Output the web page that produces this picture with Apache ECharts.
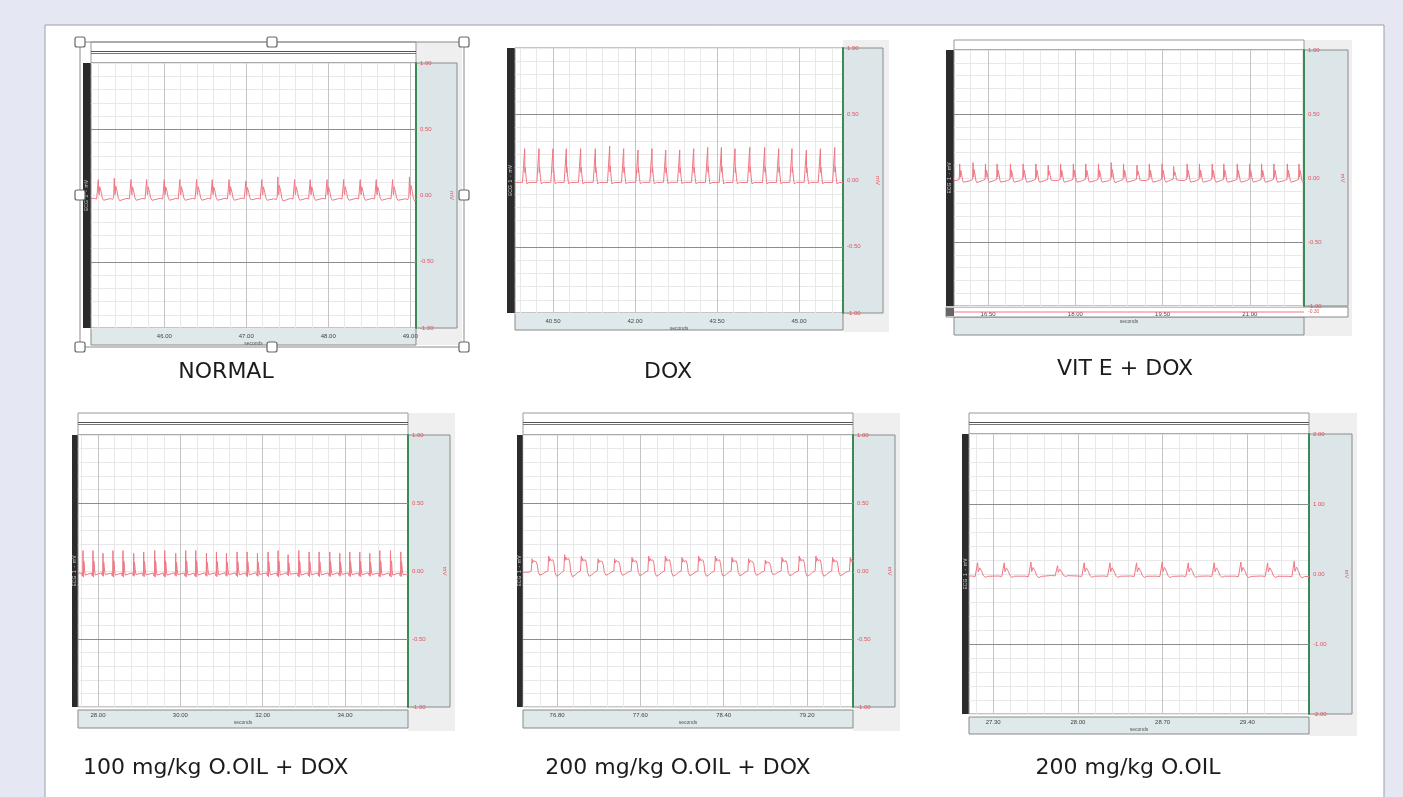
<!DOCTYPE html>
<html><head><meta charset="utf-8">
<script src="https://cdn.jsdelivr.net/npm/echarts@6/dist/echarts.min.js"></script>
<style>html,body{margin:0;padding:0;background:#e5e8f3;}#c{width:1403px;height:797px;}</style>
</head><body><div id="c"></div><script>
// ---------------- DATA ----------------
const panelTitles = ['NORMAL', 'DOX', 'VIT E + DOX', '100 mg/kg O.OIL + DOX', '200 mg/kg O.OIL + DOX', '200 mg/kg O.OIL'];

// x tick labels (seconds)
const normalXTicks = [46.00, 47.00, 48.00, 49.00];
const doxXTicks = [40.50, 42.00, 43.50, 45.00];
const vitXTicks = [16.50, 18.00, 19.50, 21.00];
const oil100XTicks = [28.00, 30.00, 32.00, 34.00];
const oil200DoxXTicks = [76.80, 77.60, 78.40, 79.20];
const oil200XTicks = [27.30, 28.00, 28.70, 29.40];

// y tick labels (mV)
const yTicksOne = [-1.00, -0.50, 0.00, 0.50, 1.00];
const yTicksTwo = [-2.00, -1.00, 0.00, 1.00, 2.00];

// visible time window of each recording
const normalRange = [45.106, 49.07];
const doxRange = [39.805, 45.805];
const vitRange = [15.914, 21.931];
const oil100Range = [27.514, 35.53];
const oil200DoxRange = [76.473, 79.642];
const oil200Range = [27.10, 29.91];

// R-peak times (s) and amplitudes (mV) of each beat
const normalBeatTimes = [45.195, 45.390, 45.594, 45.785, 46.000, 46.190, 46.395, 46.585, 46.790, 46.995, 47.190, 47.385, 47.590, 47.780, 47.985, 48.188, 48.390, 48.585, 48.785, 48.990];
const normalBeatAmps = [0.12, 0.13, 0.12, 0.12, 0.12, 0.12, 0.12, 0.12, 0.12, 0.11, 0.12, 0.14, 0.12, 0.12, 0.12, 0.12, 0.12, 0.12, 0.12, 0.14];

const doxBeatTimes = [39.982, 40.244, 40.500, 40.744, 41.006, 41.275, 41.537, 41.793, 42.055, 42.311, 42.562, 42.818, 43.074, 43.330, 43.581, 43.830, 44.099, 44.373, 44.629, 44.872, 45.135, 45.392, 45.654];
const doxBeatAmps = [0.24, 0.24, 0.24, 0.24, 0.24, 0.24, 0.26, 0.24, 0.23, 0.24, 0.23, 0.23, 0.24, 0.25, 0.25, 0.24, 0.25, 0.25, 0.24, 0.24, 0.23, 0.24, 0.25];

const vitBeatTimes = [16.012, 16.241, 16.455, 16.655, 16.885, 17.103, 17.322, 17.534, 17.747, 17.966, 18.179, 18.398, 18.617, 18.829, 19.060, 19.272, 19.491, 19.691, 19.922, 20.134, 20.353, 20.553, 20.784, 20.995, 21.202, 21.414, 21.645, 21.845];
const vitBeatAmps = [0.11, 0.12, 0.11, 0.11, 0.11, 0.11, 0.11, 0.10, 0.11, 0.11, 0.11, 0.11, 0.12, 0.11, 0.10, 0.11, 0.11, 0.09, 0.11, 0.11, 0.11, 0.11, 0.11, 0.11, 0.11, 0.11, 0.11, 0.11];
const vitCh2Times = [15.914, 21.931];
const vitCh2Values = [0.0, 0.0];

const oil100BeatTimes = [27.635, 27.878, 28.121, 28.364, 28.607, 28.867, 29.110, 29.378, 29.621, 29.888, 30.131, 30.374, 30.634, 30.877, 31.120, 31.378, 31.621, 31.873, 32.131, 32.374, 32.617, 32.877, 33.128, 33.371, 33.630, 33.873, 34.116, 34.359, 34.602, 34.845, 35.105, 35.355];
const oil100BeatAmps = [0.15, 0.15, 0.13, 0.15, 0.15, 0.13, 0.14, 0.15, 0.15, 0.13, 0.15, 0.15, 0.13, 0.14, 0.13, 0.14, 0.14, 0.13, 0.14, 0.15, 0.12, 0.15, 0.14, 0.14, 0.14, 0.13, 0.14, 0.14, 0.13, 0.15, 0.15, 0.14];

const oil200DoxBeatTimes = [76.560, 76.720, 76.873, 77.033, 77.194, 77.353, 77.520, 77.680, 77.840, 78.000, 78.160, 78.320, 78.480, 78.640, 78.800, 78.960, 79.126, 79.286, 79.446, 79.616];
const oil200DoxBeatAmps = [0.09, 0.11, 0.12, 0.11, 0.09, 0.09, 0.10, 0.11, 0.11, 0.10, 0.11, 0.11, 0.10, 0.09, 0.08, 0.10, 0.11, 0.11, 0.10, 0.10];

const oil200BeatTimes = [27.171, 27.391, 27.612, 27.832, 28.052, 28.265, 28.485, 28.697, 28.912, 29.127, 29.347, 29.568, 29.788];
const oil200BeatAmps = [0.16, 0.16, 0.17, 0.12, 0.16, 0.16, 0.16, 0.17, 0.16, 0.16, 0.17, 0.16, 0.18];

// beat shapes: [time offset from R peak (s), fraction of R amplitude]
const normalShape = [[-0.05, -0.18], [-0.02, -0.22], [-0.008, -0.1], [0, 1.0], [0.006, 0.2], [0.011, 0.05], [0.018, 0.55], [0.026, 0.5], [0.036, 0.2], [0.048, -0.15], [0.065, -0.3], [0.085, -0.2]];
const doxShape = [[-0.04, -0.06], [-0.012, -0.1], [-0.004, -0.05], [0, 1.0], [0.005, 0.25], [0.009, 0.42], [0.016, 0.38], [0.026, 0.1], [0.04, -0.1], [0.06, -0.12], [0.08, -0.06]];
const oil100Shape = [[-0.04, -0.1], [-0.015, -0.25], [-0.005, 0.0], [0, 1.0], [0.005, 0.1], [0.01, -0.3], [0.018, 0.5], [0.028, 0.4], [0.04, 0.0], [0.055, -0.2], [0.075, -0.15]];
const oil200DoxShape = [[-0.03, -0.1], [-0.008, 0.0], [0, 1.0], [0.006, 0.65], [0.012, 0.85], [0.02, 0.7], [0.03, 0.8], [0.04, 0.75], [0.05, 0.5], [0.06, -0.1], [0.075, -0.35], [0.1, -0.25], [0.125, -0.1]];

// ---------------- LAYOUT ----------------
const panels = [
  {title: panelTitles[0], ticks: normalXTicks, range: normalRange, times: normalBeatTimes, amps: normalBeatAmps, shape: normalShape, yt: yTicksOne, xStep: 0.2,
   plot: [91, 63, 325, 265], bar: [83, 8], right: [416, 41], col: [416, 42, 46, 303], bottom: [328, 17], top: [42, 21], cap: [226, 372, 'center'], frame: true},
  {title: panelTitles[1], ticks: doxXTicks, range: doxRange, times: doxBeatTimes, amps: doxBeatAmps, shape: doxShape, yt: yTicksOne, xStep: 0.3,
   plot: [515, 48, 328, 265], bar: [507, 8], right: [843, 40], col: [843, 40, 46, 292], bottom: [313, 17], top: null, cap: [668, 372, 'center']},
  {title: panelTitles[2], ticks: vitXTicks, range: vitRange, times: vitBeatTimes, amps: vitBeatAmps, shape: normalShape, yt: yTicksOne, xStep: 0.3,
   plot: [954, 50, 350, 256], bar: [946, 8], right: [1304, 44], col: [1304, 40, 48, 296], bottom: [317, 18], top: [40, 10], cap: [1125, 369, 'center'], strip: true},
  {title: panelTitles[3], ticks: oil100XTicks, range: oil100Range, times: oil100BeatTimes, amps: oil100BeatAmps, shape: oil100Shape, yt: yTicksOne, xStep: 0.4,
   plot: [78, 435, 330, 272], bar: [72, 6], right: [408, 42], col: [408, 413, 47, 318], bottom: [710, 18], top: [413, 22], cap: [83, 768, 'left']},
  {title: panelTitles[4], ticks: oil200DoxXTicks, range: oil200DoxRange, times: oil200DoxBeatTimes, amps: oil200DoxBeatAmps, shape: oil200DoxShape, yt: yTicksOne, xStep: 0.16,
   plot: [523, 435, 330, 272], bar: [517, 6], right: [853, 42], col: [853, 413, 47, 318], bottom: [710, 18], top: [413, 22], cap: [678, 768, 'center']},
  {title: panelTitles[5], ticks: oil200XTicks, range: oil200Range, times: oil200BeatTimes, amps: oil200BeatAmps, shape: normalShape, yt: yTicksTwo, xStep: 0.14,
   plot: [969, 434, 340, 280], bar: [962, 7], right: [1309, 43], col: [1309, 413, 48, 323], bottom: [717, 17], top: [413, 21], cap: [1128, 768, 'center']}
];

function buildTrace(p) {
  const pts = [];
  const s = p.shape;
  pts.push([p.range[0], s[0][1] * p.amps[0]]);
  p.times.forEach((t, i) => {
    s.forEach(([dt, f]) => pts.push([+(t + dt).toFixed(4), +(f * p.amps[i]).toFixed(4)]));
  });
  pts.push([p.range[1], s[s.length - 1][1] * p.amps[p.amps.length - 1]]);
  return pts;
}
function minorLines(p) {
  const out = [];
  const first = p.ticks[0];
  for (let v = first - p.xStep; v > p.range[0]; v -= p.xStep) out.push(+v.toFixed(4));
  for (let v = first; v < p.range[1]; v += p.xStep) out.push(+v.toFixed(4));
  return out;
}

const grids = [], xAxes = [], yAxes = [], series = [], graphics = [];
const RED = '#e8505c';
graphics.push({type: 'rect', shape: {x: 45, y: 25, width: 1339, height: 790}, style: {fill: '#fff', stroke: '#9a9dab', lineWidth: 1}, z: -30});

panels.forEach((p, i) => {
  const [L, T, Wd, H] = p.plot;
  grids.push({left: L, top: T, width: Wd, height: H, show: true, backgroundColor: '#fff', borderColor: '#8a8a8a', borderWidth: 1});
  xAxes.push({type: 'value', gridIndex: i, min: p.range[0], max: p.range[1],
    splitLine: {show: false}, axisLine: {show: false}, axisTick: {show: false},
    axisLabel: {customValues: p.ticks, formatter: v => v.toFixed(2), fontSize: 6, color: '#444', margin: 5, hideOverlap: false, showMinLabel: true, showMaxLabel: true},
    name: 'seconds', nameLocation: 'middle', nameGap: 13, nameTextStyle: {fontSize: 5, color: '#555'}});
  const ymax = p.yt[p.yt.length - 1];
  yAxes.push({type: 'value', gridIndex: i, min: -ymax, max: ymax, interval: ymax / 10, position: 'right',
    axisLine: {show: true, lineStyle: {color: '#3b8a55', width: 2}}, axisTick: {show: false},
    splitLine: {show: true, lineStyle: {color: '#e8e8e8', width: 1}},
    axisLabel: {fontSize: 6, color: RED, margin: 4, formatter: v => (p.yt.some(t => Math.abs(t - v) < 1e-6) ? v.toFixed(2) : '')}});
  // grid lines
  const mins = minorLines(p).filter(v => !p.ticks.some(t => Math.abs(t - v) < 1e-6));
  series.push({type: 'line', xAxisIndex: i, yAxisIndex: i, data: [], z: 1, silent: true,
    markLine: {silent: true, symbol: 'none', animation: false, label: {show: false},
      data: [
        ...mins.map(v => ({xAxis: v, lineStyle: {color: '#e8e8e8', width: 1, type: 'solid'}})),
        ...p.ticks.map(v => ({xAxis: v, lineStyle: {color: '#c4c4c4', width: 1, type: 'solid'}})),
        ...[p.yt[1], p.yt[3]].map(v => ({yAxis: v, lineStyle: {color: '#8c8c8c', width: 1, type: 'solid'}}))
      ]}});
  series.push({type: 'line', xAxisIndex: i, yAxisIndex: i, data: buildTrace(p), showSymbol: false, z: 5, silent: true,
    lineStyle: {color: '#ef7884', width: 1}, animation: false});

  // decorations
  graphics.push({type: 'rect', shape: {x: p.col[0], y: p.col[1], width: p.col[2], height: p.col[3]}, style: {fill: '#efefef'}, z: -20});
  graphics.push({type: 'rect', shape: {x: p.right[0], y: T, width: p.right[1], height: H}, style: {fill: '#dce6e9', stroke: '#8a8a8a', lineWidth: 1}, z: -10});
  graphics.push({type: 'rect', shape: {x: L, y: p.bottom[0], width: Wd, height: p.bottom[1]}, style: {fill: '#dfe8ea', stroke: '#8a8a8a', lineWidth: 1}, z: -10});
  graphics.push({type: 'rect', shape: {x: p.bar[0], y: T, width: p.bar[1], height: H}, style: {fill: '#2b2b2b'}, z: -5});
  graphics.push({type: 'text', x: p.bar[0] + p.bar[1] / 2, y: T + H / 2, rotation: Math.PI / 2, style: {text: 'ECG  1  -  mV', fill: '#cfcfcf', fontSize: 5, align: 'center', verticalAlign: 'middle'}, z: 20});
  graphics.push({type: 'text', x: p.right[0] + p.right[1] - 5, y: T + H / 2, rotation: -Math.PI / 2, style: {text: 'mV', fill: RED, fontSize: 6, align: 'center', verticalAlign: 'middle'}, z: 20});
  if (p.top) {
    graphics.push({type: 'rect', shape: {x: L, y: p.top[0], width: Wd, height: p.top[1]}, style: {fill: '#fff', stroke: '#999', lineWidth: 1}, z: -10});
    if (p.top[1] > 15) {
      graphics.push({type: 'line', shape: {x1: L, y1: p.top[0] + 9.5, x2: L + Wd, y2: p.top[0] + 9.5}, style: {stroke: '#555', lineWidth: 1}, z: -9});
      graphics.push({type: 'line', shape: {x1: L, y1: p.top[0] + 11.5, x2: L + Wd, y2: p.top[0] + 11.5}, style: {stroke: '#777', lineWidth: 1}, z: -9});
    }
  }
  graphics.push({type: 'text', x: p.cap[0], y: p.cap[1], style: {text: p.title, fill: '#1c1c1c', fontSize: 22, fontFamily: 'DejaVu Sans', align: p.cap[2], verticalAlign: 'middle'}, z: 10});
});

// VIT E collapsed second channel strip
const vp = panels[2];
graphics.push({type: 'rect', shape: {x: 946, y: 307, width: 402, height: 10}, style: {fill: '#fff', stroke: '#8a8a8a', lineWidth: 1}, z: -10});
graphics.push({type: 'rect', shape: {x: 946, y: 308, width: 8, height: 8}, style: {fill: '#666'}, z: -9});
graphics.push({type: 'text', x: 1308, y: 312, style: {text: '-0.30', fill: RED, fontSize: 5, verticalAlign: 'middle'}, z: 10});
const si = panels.length;
grids.push({left: 954, top: 308, width: 350, height: 8, show: false});
xAxes.push({type: 'value', gridIndex: si, min: vp.range[0], max: vp.range[1], show: false});
yAxes.push({type: 'value', gridIndex: si, min: -1, max: 1, show: false});
series.push({type: 'line', xAxisIndex: si, yAxisIndex: si, data: vitCh2Times.map((t, k) => [t, vitCh2Values[k]]), showSymbol: false, lineStyle: {color: '#ef7884', width: 1}, z: 5, silent: true, animation: false});

// selection frame around NORMAL
graphics.push({type: 'rect', shape: {x: 80, y: 42, width: 384, height: 305}, style: {fill: 'none', stroke: '#8a8a8a', lineWidth: 1}, z: 30});
[[80, 42], [272, 42], [464, 42], [80, 195], [464, 195], [80, 347], [272, 347], [464, 347]].forEach(([x, y]) => {
  graphics.push({type: 'rect', shape: {x: x - 5, y: y - 5, width: 10, height: 10, r: 2}, style: {fill: '#fff', stroke: '#666', lineWidth: 1.2}, z: 31});
});

const chart = echarts.init(document.getElementById('c'), null, {renderer: 'canvas'});
chart.setOption({animation: false, backgroundColor: '#e5e8f3', grid: grids, xAxis: xAxes, yAxis: yAxes, series: series, graphic: graphics});
</script></body></html>
